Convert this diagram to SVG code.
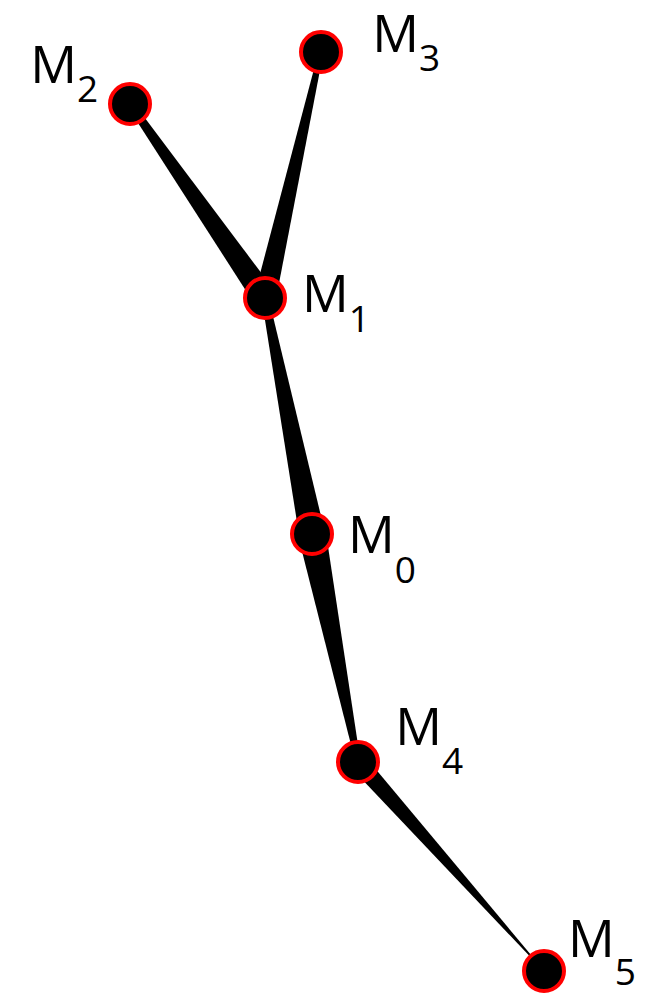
<svg xmlns="http://www.w3.org/2000/svg" width="648" height="994" viewBox="0 0 648 994">
<style>
.node circle{fill:#000;stroke:#ff0000;stroke-width:4}
.lbl{font-family:"Open Sans","Noto Sans",sans-serif;font-size:52px;fill:#000}
.sub{font-size:37px}
.edge{fill:#000;stroke:none}
</style>
<rect width="648" height="994" fill="#fff"/>
<g id="connectors">
<polygon class="edge" points="127.1,106 132.9,102 274.9,291.1 255.1,304.9"/>
<polygon class="edge" points="318.6,51.4 323.4,52.6 275.7,300.4 254.3,295.6"/>
<polygon class="edge" points="261.6,298.7 268.4,297.3 324.7,531.5 299.3,536.5"/>
<polygon class="edge" points="298.3,536.8 325.7,531.2 360.5,761.5 355.5,762.5"/>
<polygon class="edge" points="351.3,768 364.7,756 545.5,972.3 542.5,969.7"/>
</g>
<g id="M2" class="node"><circle cx="130" cy="104" r="20"/><text class="lbl" x="30.3" y="83.3">M<tspan class="sub" dy="18.4">2</tspan></text></g>
<g id="M3" class="node"><circle cx="321" cy="52" r="20"/><text class="lbl" x="372.3" y="51.7">M<tspan class="sub" dy="19.3">3</tspan></text></g>
<g id="M1" class="node"><circle cx="265" cy="298" r="20"/><text class="lbl" x="302" y="311.7">M<tspan class="sub" dy="20">1</tspan></text></g>
<g id="M0" class="node"><circle cx="312" cy="534" r="20"/><text class="lbl" x="348" y="552.7">M<tspan class="sub" dy="30">0</tspan></text></g>
<g id="M4" class="node"><circle cx="358" cy="762" r="20"/><text class="lbl" x="395.3" y="745">M<tspan class="sub" dy="29">4</tspan></text></g>
<g id="M5" class="node"><circle cx="544" cy="971" r="20"/><text class="lbl" x="568" y="956.7">M<tspan class="sub" dy="28.3">5</tspan></text></g>
</svg>
